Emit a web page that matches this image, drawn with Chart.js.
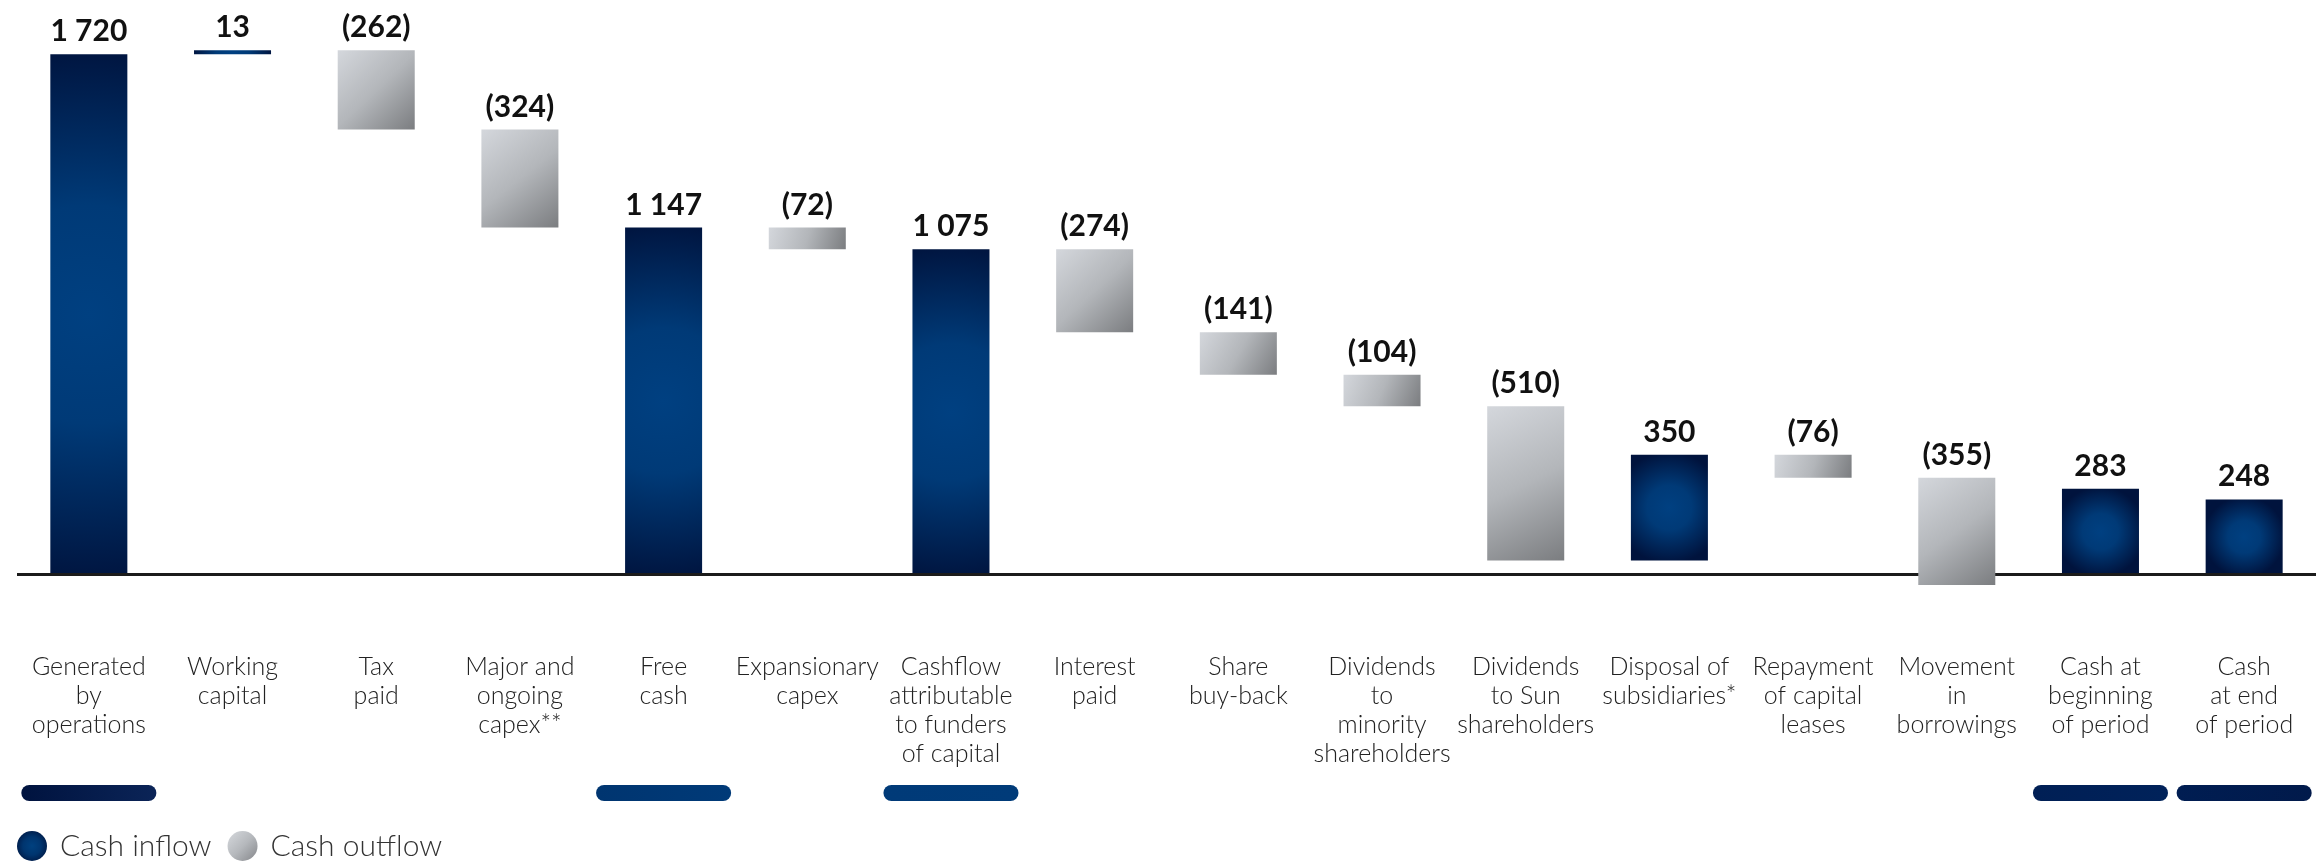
<!DOCTYPE html>
<html><head><meta charset="utf-8">
<script src="https://cdn.jsdelivr.net/npm/chart.js@4.4.1/dist/chart.umd.min.js"></script>
<style>html,body{margin:0;padding:0;background:#fff;overflow:hidden}</style>
</head><body>
<canvas id="c" width="2323" height="862"></canvas>
<script>
// ---- data ----
const categories = [
  ["Generated","by","operations"],
  ["Working","capital"],
  ["Tax","paid"],
  ["Major and","ongoing","capex**"],
  ["Free","cash"],
  ["Expansionary","capex"],
  ["Cashflow","attributable","to funders","of capital"],
  ["Interest","paid"],
  ["Share","buy-back"],
  ["Dividends","to","minority","shareholders"],
  ["Dividends","to Sun","shareholders"],
  ["Disposal of","subsidiaries*"],
  ["Repayment","of capital","leases"],
  ["Movement","in","borrowings"],
  ["Cash at","beginning","of period"],
  ["Cash","at end","of period"]
];
const values = [1720, 13, -262, -324, 1147, -72, 1075, -274, -141, -104, -510, 350, -76, -355, 283, 248];
const isTotal = [true, false, false, false, true, false, true, false, false, false, false, false, false, false, true, true];
const legendLabels = ["Cash inflow", "Cash outflow"];

// waterfall ranges built from the values
const ranges = [];
let running = 0;
values.forEach((v, i) => {
  if (isTotal[i]) { ranges.push([0, v]); running = v; }
  else { ranges.push([running, running + v]); running += v; }
});

function fmt(v) {
  const a = Math.abs(v).toString().replace(/\B(?=(\d{3})+(?!\d))/g, ' ');
  return v < 0 ? '(' + a + ')' : a;
}

const BAR_FRAC = 0.536;

function barFill(c) {
  const chart = c.chart, area = chart.chartArea;
  if (c.type !== 'data' || !area) return '#003a78';
  const i = c.dataIndex;
  const blue = values[i] >= 0;
  const xs = chart.scales.x, ys = chart.scales.y;
  const r = ranges[i];
  const xc = xs.getPixelForValue(i);
  const w = (xs.width / categories.length) * BAR_FRAC;
  const yt = ys.getPixelForValue(Math.max(r[0], r[1]));
  const yb = ys.getPixelForValue(Math.min(r[0], r[1]));
  const ctx = chart.ctx;
  if (blue) {
    const cy = (yt + yb) / 2;
    const rad = Math.max(w, yb - yt) / 2 * 1.05;
    const g = ctx.createRadialGradient(xc, cy, 0, xc, cy, rad);
    g.addColorStop(0, '#004081');
    g.addColorStop(0.4, '#003a77');
    g.addColorStop(1, '#00133d');
    return g;
  }
  const g = ctx.createLinearGradient(xc - w / 2, yt, xc + w / 2, yb);
  g.addColorStop(0, '#d4d7dc');
  g.addColorStop(0.5, '#b3b6ba');
  g.addColorStop(1, '#7b7d80');
  return g;
}

const valueLabels = {
  id: 'valueLabels',
  afterDatasetsDraw(chart) {
    const ctx = chart.ctx, meta = chart.getDatasetMeta(0);
    ctx.save();
    ctx.font = 'bold 30px Lato';
    ctx.fillStyle = '#111';
    ctx.textAlign = 'center';
    ctx.textBaseline = 'alphabetic';
    meta.data.forEach((el, i) => {
      const top = Math.min(el.y, el.base);
      ctx.fillText(fmt(values[i]), el.x, top - 13);
    });
    ctx.restore();
  }
};

const pillStyles = {
  0: ['#00133f', '#0b2457'],
  4: ['#003570', '#003a78'],
  6: ['#003a78', '#003b79'],
  14: ['#001f55', '#00225a'],
  15: ['#001d52', '#011a4b']
};

const pills = {
  id: 'pills',
  afterDraw(chart) {
    const ctx = chart.ctx, xs = chart.scales.x;
    const cw = xs.width / categories.length;
    const y0 = xs.bottom + 5;
    ctx.save();
    isTotal.forEach((t, i) => {
      if (!t) return;
      const xc = xs.getPixelForValue(i);
      const w = cw * 0.94;
      const x0 = xc - w / 2;
      const st = pillStyles[i] || ['#003a78', '#003a78'];
      const g = ctx.createLinearGradient(x0, 0, x0 + w, 0);
      g.addColorStop(0, st[0]); g.addColorStop(1, st[1]);
      ctx.fillStyle = g;
      ctx.beginPath();
      ctx.roundRect(x0, y0, w, 16, 8);
      ctx.fill();
    });
    ctx.restore();
  }
};

const customLegend = {
  id: 'customLegend',
  afterDraw(chart) {
    const ctx = chart.ctx;
    const cy = 846, r = 15;
    let x = 17;
    ctx.save();
    ctx.font = '300 30px Lato';
    ctx.textBaseline = 'middle';
    ctx.textAlign = 'left';
    legendLabels.forEach((lab, k) => {
      const cx = x + r;
      let g;
      if (k === 0) {
        g = ctx.createRadialGradient(cx, cy, 0, cx, cy, r);
        g.addColorStop(0, '#00417f'); g.addColorStop(0.6, '#00356f'); g.addColorStop(1, '#00204f');
      } else {
        g = ctx.createLinearGradient(cx - r, cy - r, cx + r, cy + r);
        g.addColorStop(0, '#d6d9dd'); g.addColorStop(0.5, '#b6b9bd'); g.addColorStop(1, '#84868a');
      }
      ctx.fillStyle = g;
      ctx.beginPath(); ctx.arc(cx, cy, r, 0, Math.PI * 2); ctx.fill();
      ctx.fillStyle = '#333';
      const tx = cx + r + 13;
      ctx.fillText(lab, tx, cy);
      x = tx + ctx.measureText(lab).width + 16;
    });
    ctx.restore();
  }
};

new Chart(document.getElementById('c'), {
  type: 'bar',
  data: {
    labels: categories,
    datasets: [{
      data: ranges,
      backgroundColor: barFill,
      borderWidth: 0,
      borderSkipped: false,
      barPercentage: BAR_FRAC,
      categoryPercentage: 1
    }]
  },
  options: {
    responsive: false,
    animation: false,
    devicePixelRatio: 1,
    layout: { padding: { top: 30, left: 17, right: 7, bottom: 82 } },
    plugins: { legend: { display: false }, tooltip: { enabled: false } },
    scales: {
      x: {
        grid: { display: false, drawTicks: false },
        border: { display: false },
        ticks: {
          autoSkip: false, maxRotation: 0, minRotation: 0, padding: 12,
          color: '#222',
          font: { family: 'Lato', weight: '300', size: 25, lineHeight: 1.15 }
        }
      },
      y: {
        min: -220, max: 1800, z: 1,
        afterBuildTicks: s => { s.ticks = [{ value: 0 }]; },
        ticks: { display: false },
        grid: { drawTicks: false, color: '#1b1b1b', lineWidth: 3 },
        border: { display: false }
      }
    }
  },
  plugins: [valueLabels, pills, customLegend]
});
</script>
</body></html>
